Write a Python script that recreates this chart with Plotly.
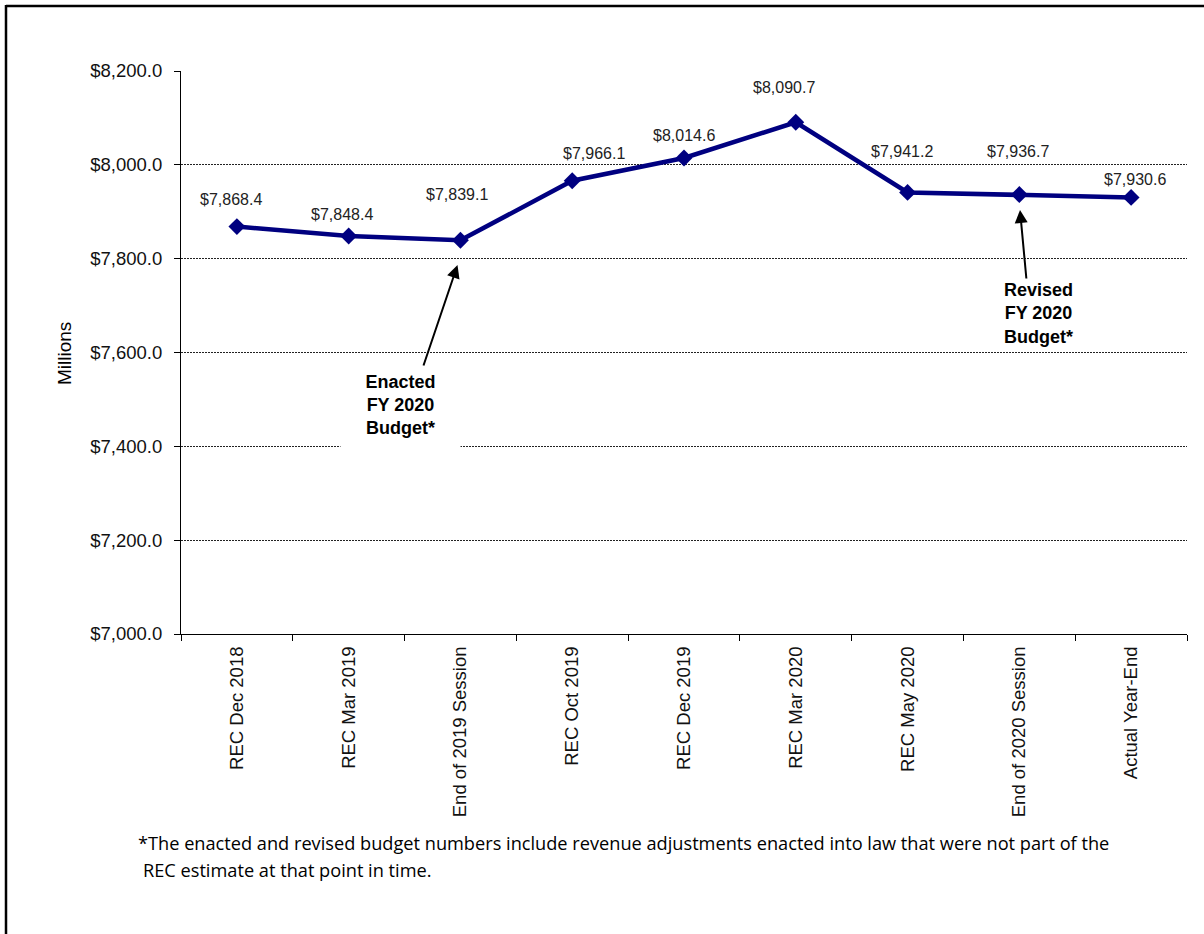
import plotly.graph_objects as go

# ---------------- data ----------------
categories = ["REC Dec 2018", "REC Mar 2019", "End of 2019 Session", "REC Oct 2019",
              "REC Dec 2019", "REC Mar 2020", "REC May 2020", "End of 2020 Session",
              "Actual Year-End"]
revenue = [7868.4, 7848.4, 7839.1, 7966.1, 8014.6, 8090.7, 7941.2, 7936.7, 7930.6]
y_tick_values = [7000, 7200, 7400, 7600, 7800, 8000, 8200]
y_tick_labels = ["$7,000.0", "$7,200.0", "$7,400.0", "$7,600.0", "$7,800.0", "$8,000.0", "$8,200.0"]
footnote_lines = ["*The enacted and revised budget numbers include revenue adjustments enacted into law that were not part of the",
                  "REC estimate at that point in time."]

# ---------------- layout geometry (styles) ----------------
W, H = 1204, 934
ML, MR, MT, MB = 181, 17, 71, 300
PW, PH = W - ML - MR, H - MT - MB
YMIN, YMAX = 7000, 8200
NAVY = "#000080"
FONT = "Liberation Sans, Arial, sans-serif"
NOTE_FONT = "Open Sans, Liberation Sans, sans-serif"

def px_to_x(px):
    return (px - ML) / PW * len(categories) - 0.5

def py_to_y(py):
    return YMAX - (py - MT) / PH * (YMAX - YMIN)

def px_to_paper(px):
    return (px - ML) / PW

def py_to_paper(py):
    return (H - MB - py) / PH

# per-label pixel offsets (manually placed labels in the original)
label_offsets = [(-6, -27), (-7, -21), (-3, -46), (22, -27), (0, -22),
                 (-12, -35), (-6, -41), (-1, -43), (4, -18)]

fig = go.Figure()
fig.add_trace(go.Scatter(
    x=categories, y=revenue, mode="lines+markers",
    line=dict(color=NAVY, width=4.5),
    marker=dict(symbol="diamond", size=13, color=NAVY),
    hoverinfo="skip", showlegend=False,
))

annotations = []
for cat, val, (dx, dy) in zip(categories, revenue, label_offsets):
    annotations.append(dict(
        x=cat, y=val, xref="x", yref="y", text=f"${val:,.1f}", showarrow=False,
        xshift=dx, yshift=-dy, font=dict(family=FONT, size=16, color="#222222"),
        xanchor="center", yanchor="middle",
    ))

# Enacted budget text box (white background hides the gridline)
annotations.append(dict(
    x=px_to_x(400.5), y=py_to_y(405), xref="x", yref="y",
    text="<b>Enacted<br>FY 2020<br>Budget*</b>", showarrow=False,
    bgcolor="white", width=119, height=92, borderpad=0,
    font=dict(family=FONT, size=18, color="black"), align="center",
    xanchor="center", yanchor="middle",
))
annotations.append(dict(
    x=px_to_x(457.5), y=py_to_y(265), ax=px_to_x(423), ay=py_to_y(367),
    xref="x", yref="y", axref="x", ayref="y", text="", showarrow=True,
    arrowhead=2, arrowsize=1.3, arrowwidth=2, arrowcolor="black",
))
# Revised budget
annotations.append(dict(
    x=px_to_x(1038), y=py_to_y(313), xref="x", yref="y",
    text="<b>Revised<br>FY 2020<br>Budget*</b>", showarrow=False,
    font=dict(family=FONT, size=18, color="black"), align="center",
    xanchor="center", yanchor="middle",
))
annotations.append(dict(
    x=px_to_x(1020), y=py_to_y(210), ax=px_to_x(1026.5), ay=py_to_y(280),
    xref="x", yref="y", axref="x", ayref="y", text="", showarrow=True,
    arrowhead=2, arrowsize=1.3, arrowwidth=2, arrowcolor="black",
))
# y axis title
annotations.append(dict(
    x=px_to_paper(65), y=py_to_paper(354), xref="paper", yref="paper",
    text="Millions", textangle=-90, showarrow=False,
    font=dict(family=FONT, size=19, color="black"),
    xanchor="center", yanchor="middle",
))
# footnote
annotations.append(dict(
    x=px_to_paper(136), y=py_to_paper(843), xref="paper", yref="paper",
    text=footnote_lines[0], showarrow=False, xanchor="left", yanchor="middle",
    font=dict(family=NOTE_FONT, size=18.2, color="black"),
))
annotations.append(dict(
    x=px_to_paper(141), y=py_to_paper(870), xref="paper", yref="paper",
    text=footnote_lines[1], showarrow=False, xanchor="left", yanchor="middle",
    font=dict(family=NOTE_FONT, size=18.2, color="black"),
))

shapes = [
    dict(type="line", xref="paper", yref="paper",
         x0=px_to_paper(6), x1=px_to_paper(W + 5), y0=py_to_paper(6), y1=py_to_paper(6),
         line=dict(color="black", width=2.5)),
    dict(type="line", xref="paper", yref="paper",
         x0=px_to_paper(6), x1=px_to_paper(6), y0=py_to_paper(5), y1=py_to_paper(H + 5),
         line=dict(color="black", width=2.5)),
]

fig.update_layout(
    width=W, height=H,
    margin=dict(l=ML, r=MR, t=MT, b=MB, pad=0),
    paper_bgcolor="white", plot_bgcolor="white",
    annotations=annotations, shapes=shapes,
    font=dict(family=FONT, color="black"),
    showlegend=False,
)
fig.update_xaxes(
    type="category", range=[-0.5, len(categories) - 0.5],
    showline=True, linecolor="black", linewidth=1.2,
    ticks="outside", tickson="boundaries", ticklen=6, tickcolor="black", tickwidth=1,
    tickangle=-90, tickfont=dict(family=FONT, size=18.5, color="#111111"),
    ticklabelstandoff=4, showgrid=False, zeroline=False,
)
fig.update_yaxes(
    range=[YMIN, YMAX], tickvals=y_tick_values, ticktext=y_tick_labels,
    showline=True, linecolor="black", linewidth=1.2,
    ticks="outside", ticklen=6, tickcolor="black", tickwidth=1,
    tickfont=dict(family=FONT, size=18.5, color="#111111"),
    ticklabelstandoff=8,
    showgrid=True, gridcolor="#222222", gridwidth=1, griddash="2px,1px",
    zeroline=False,
)

fig.write_html("out.html")
